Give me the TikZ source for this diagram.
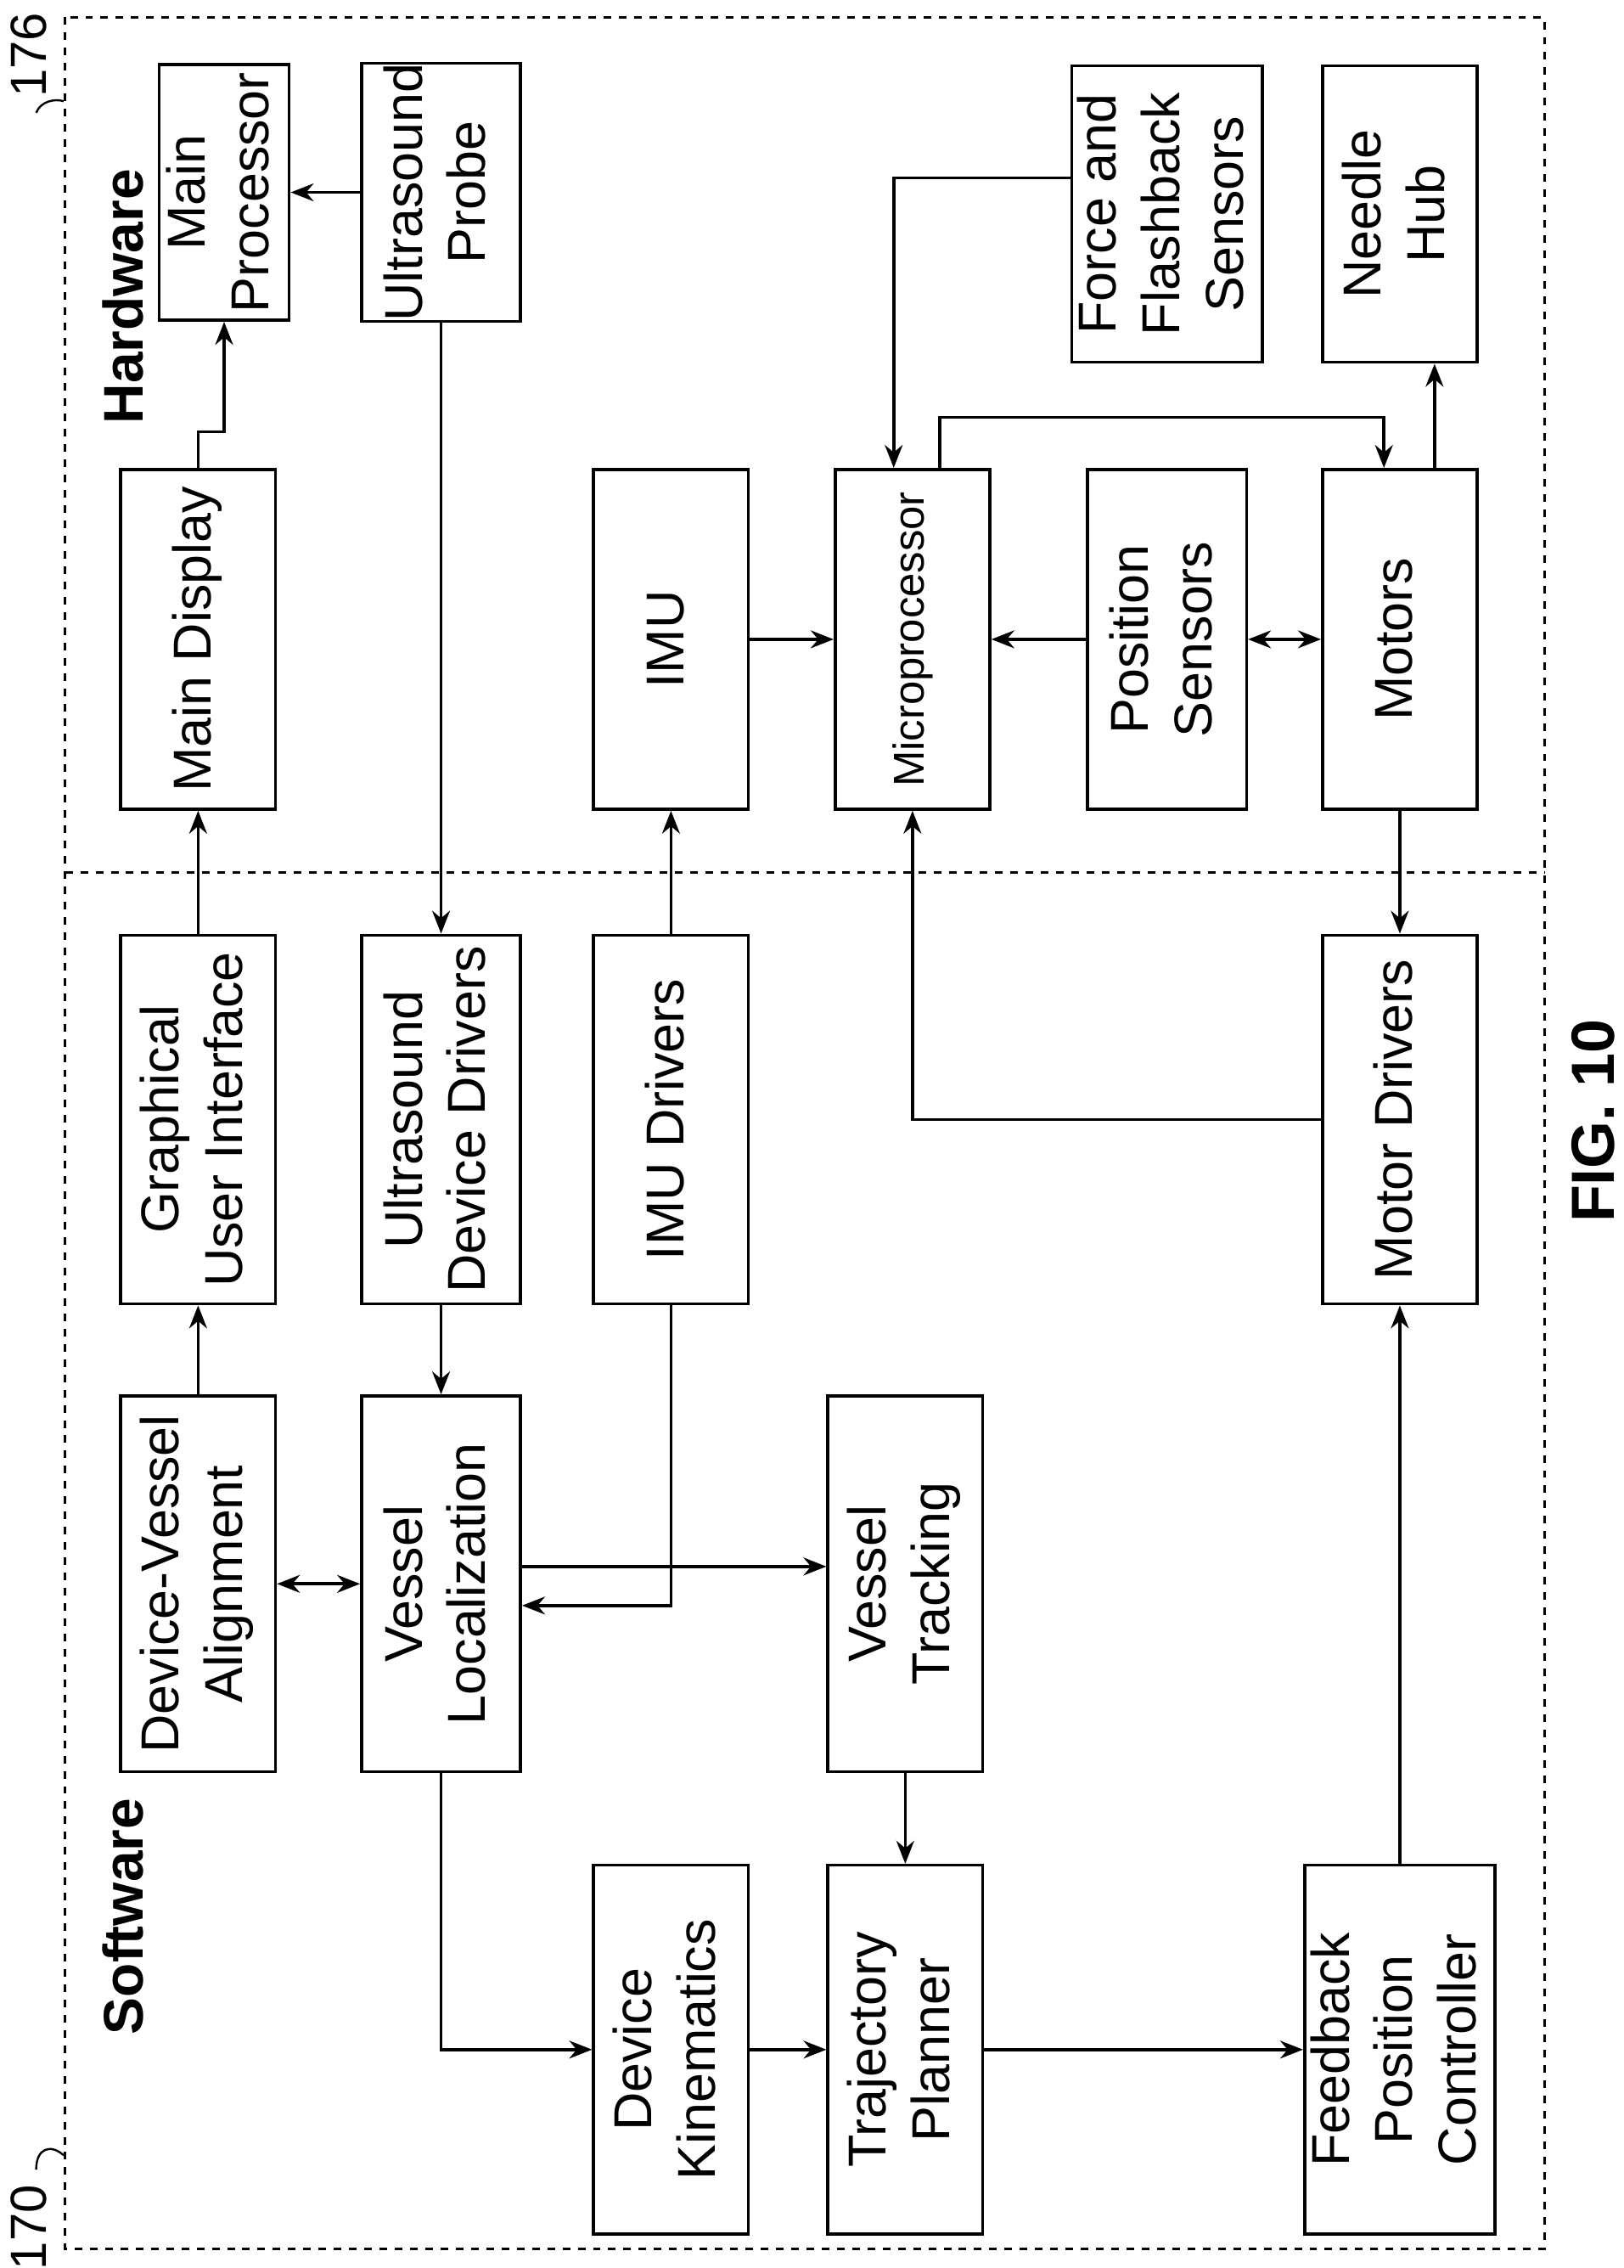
\documentclass[tikz,border=0pt]{standalone}
\usepackage{fontspec}
\setmainfont{Liberation Sans}
\usetikzlibrary{arrows.meta}
\newcommand{\rtext}[1]{\rotatebox{90}{\begin{tabular}{@{}c@{}}#1\end{tabular}}}
\tikzset{
  box/.style={draw, line width=1.2pt, inner sep=0pt, minimum width=2.14cm, minimum height=5.1cm,
    font=\fontsize{21}{25}\selectfont},
  hbox/.style={box, minimum height=4.7cm},
  link/.style={-{Stealth[length=9pt,width=7pt]}, line width=1.2pt},
  both/.style={{Stealth[length=9pt,width=7pt]}-{Stealth[length=9pt,width=7pt]}, line width=1.2pt}
}
\begin{document}
\begin{tikzpicture}[x=0.02cm, y=-0.02cm]
  \useasboundingbox (0,0) rectangle (1123,1568);
  \draw[dashed, line width=1pt] (45,12) rectangle (1068,1555);
  \draw[dashed, line width=1pt] (45,603) -- (1068,603);
  \node[font=\bfseries\fontsize{22}{26}\selectfont, rotate=90] (hw) at (85,205) {Hardware};
  \node[font=\bfseries\fontsize{22}{26}\selectfont, rotate=90] (sw) at (85,1325) {Software};
  \node[font=\bfseries\fontsize{24}{28}\selectfont, rotate=90] (fig) at (1102,775) {FIG. 10};
  \node[font=\fontsize{20}{24}\selectfont, rotate=90] (r176) at (20,38) {176};
  \node[font=\fontsize{20}{24}\selectfont, rotate=90] (r170) at (20,1540) {170};
  \draw[line width=0.8pt] (25,78) .. controls (28,70) and (38,68) .. (44,70);
  \draw[line width=0.8pt] (25,1500) .. controls (25,1485) and (35,1482) .. (44,1490);
  % hardware
  \node[hbox] (disp) at (137,442) {\rtext{Main Display}};
  \node[box, minimum width=1.8cm, minimum height=3.54cm] (proc) at (155,133) {\rtext{Main\\Processor}};
  \node[box, minimum width=2.2cm, minimum height=3.54cm] (probe) at (305,133) {\rtext{Ultrasound\\Probe}};
  \node[hbox] (imu) at (464,442) {\rtext{IMU}};
  \node[hbox] (micro) at (631,442) {\rotatebox{90}{\fontsize{17}{20}\selectfont Microprocessor}};
  \node[hbox, minimum width=2.2cm] (pos) at (807,442) {\rtext{Position\\Sensors}};
  \node[hbox] (motors) at (968,442) {\rtext{Motors}};
  \node[box, minimum width=2.3cm, minimum height=4.1cm] (force) at (807,148) {\rtext{Force and\\Flashback\\Sensors}};
  \node[box, minimum height=4.1cm] (hub) at (968,148) {\rtext{Needle\\Hub}};
  % software
  \node[box] (gui) at (137,774) {\rtext{Graphical\\User Interface}};
  \node[box, minimum width=2.2cm] (usdrv) at (305,774) {\rtext{Ultrasound\\Device Drivers}};
  \node[box] (imudrv) at (464,774) {\rtext{IMU Drivers}};
  \node[box] (motdrv) at (968,774) {\rtext{Motor Drivers}};
  \node[box, minimum height=5.2cm] (align) at (137,1095) {\rtext{Device-Vessel\\Alignment}};
  \node[box, minimum width=2.2cm, minimum height=5.2cm] (loc) at (305,1095) {\rtext{Vessel\\Localization}};
  \node[box, minimum height=5.2cm] (track) at (626,1095) {\rtext{Vessel\\Tracking}};
  \node[box] (kin) at (464,1417) {\rtext{Device\\Kinematics}};
  \node[box] (plan) at (626,1417) {\rtext{Trajectory\\Planner}};
  \node[box] (ctrl) at (968,1417) {\rtext{Feedback\\Position\\Controller}};
  % connectors
  \draw[link] (gui) -- (disp);
  \draw[link] (disp.north) -- ++(0,-25) -| (proc.south);
  \draw[link] (probe) -- (proc);
  \draw[link] (probe) -- (usdrv);
  \draw[link] (usdrv) -- (loc);
  \draw[both] (align) -- (loc);
  \draw[link] (align) -- (gui);
  \draw[link] (imudrv) -- (imu);
  \draw[link] (imudrv.south) |- ([yshift=-15*0.02cm]loc.east);
  \draw[link] ([yshift=12*0.02cm]loc.east) -- ([yshift=12*0.02cm]track.west);
  \draw[link] (loc.south) |- (kin.west);
  \draw[link] (kin) -- (plan);
  \draw[link] (track) -- (plan);
  \draw[link] (plan) -- (ctrl);
  \draw[link] (ctrl) -- (motdrv);
  \draw[link] (motdrv.west) -| (micro.south);
  \draw[link] (motors) -- (motdrv);
  \draw[link] (imu) -- (micro);
  \draw[link] (pos) -- (micro);
  \draw[both] (pos) -- (motors);
  \draw[link] ([yshift=25*0.02cm]force.west) -| ([xshift=-13*0.02cm]micro.north);
  \draw[link] ([xshift=19*0.02cm]micro.north) -- ++(0,-35) -| ([xshift=-11*0.02cm]motors.north);
  \draw[link] ([xshift=24*0.02cm]motors.north) -- ([xshift=24*0.02cm]motors.north |- hub.south);
\end{tikzpicture}
\end{document}
